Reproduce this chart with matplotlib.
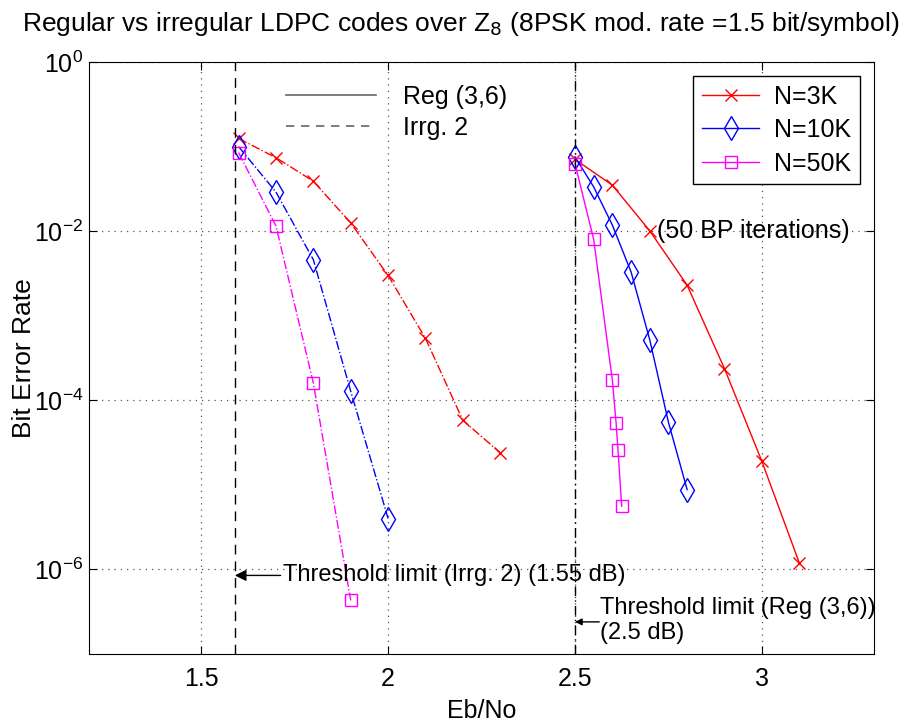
import matplotlib
matplotlib.use("Agg")
import matplotlib.pyplot as plt
from matplotlib.lines import Line2D

plt.rcParams['font.family'] = ['Liberation Sans', 'DejaVu Sans']

# ---- data ----
# irregular codes (Irrg. 2), dash-dot
irr_3k_x = [1.6, 1.7, 1.8, 1.9, 2.0, 2.1, 2.2, 2.3]
irr_3k_y = [0.125, 0.074, 0.039, 0.0125, 0.003, 5.4e-4, 5.8e-5, 2.4e-5]
irr_10k_x = [1.6, 1.7, 1.8, 1.9, 2.0]
irr_10k_y = [0.10, 0.029, 0.0046, 1.28e-4, 4.0e-6]
irr_50k_x = [1.6, 1.7, 1.8, 1.9]
irr_50k_y = [0.085, 0.0115, 1.6e-4, 4.3e-7]

# regular (3,6) codes, solid
reg_3k_x = [2.5, 2.6, 2.7, 2.8, 2.9, 3.0, 3.1]
reg_3k_y = [0.0706, 0.035, 0.0101, 0.0023, 2.37e-4, 1.9e-5, 1.2e-6]
reg_10k_x = [2.5, 2.55, 2.6, 2.65, 2.7, 2.75, 2.8]
reg_10k_y = [0.0757, 0.0334, 0.0118, 0.0033, 5.2e-4, 5.5e-5, 8.8e-6]
reg_50k_x = [2.5, 2.55, 2.6, 2.61, 2.615, 2.625]
reg_50k_y = [0.063, 0.008, 1.73e-4, 5.4e-5, 2.6e-5, 5.6e-6]

thr_irr = 1.59   # dashed threshold line
thr_reg = 2.5    # dash-dot threshold line

x_ticks = [1.5, 2, 2.5, 3]
x_ticklabels = ['1.5', '2', '2.5', '3']
y_ticks = [1, 1e-2, 1e-4, 1e-6]

FS = 18

# ---- plot ----
fig = plt.figure(figsize=(9.09, 7.23), dpi=100)
ax = fig.add_axes([0.098, 0.0954, 0.8635, 0.8188])

mk = dict(mfc='none', lw=1.0, mew=1.0)
ax.plot(irr_3k_x, irr_3k_y, '-.', color='red', marker='x', ms=8, **mk)
ax.plot(irr_10k_x, irr_10k_y, '-.', color='blue', marker='d', ms=12, **mk)
ax.plot(irr_50k_x, irr_50k_y, '-.', color='magenta', marker='s', ms=8, **mk)
l1, = ax.plot(reg_3k_x, reg_3k_y, '-', color='red', marker='x', ms=8, **mk)
l2, = ax.plot(reg_10k_x, reg_10k_y, '-', color='blue', marker='d', ms=12, **mk)
l3, = ax.plot(reg_50k_x, reg_50k_y, '-', color='magenta', marker='s', ms=8, **mk)

ax.axvline(thr_irr, color='black', ls=(0, (7, 5)), lw=1.0)
ax.axvline(thr_reg, color='black', ls=(0, (7, 3, 1, 3)), lw=1.0)

ax.set_yscale('log')
ax.set_xlim(1.2, 3.3)
ax.set_ylim(1e-7, 1)
ax.set_xticks(x_ticks)
ax.set_xticklabels(x_ticklabels)
ax.set_yticks(y_ticks)
ax.yaxis.set_minor_locator(matplotlib.ticker.NullLocator())
ax.tick_params(direction='in', top=True, right=True, labelsize=FS, length=6)
ax.tick_params(axis='x', pad=9)
ax.tick_params(axis='y', pad=4)
ax.grid(True, ls=(0, (1, 4)), color='#555555', lw=0.9)

ax.set_title('Regular vs irregular LDPC codes over Z$_8$ (8PSK mod. rate =1.5 bit/symbol)',
             fontsize=19, pad=22, x=0.473)
ax.set_xlabel('Eb/No', fontsize=FS, labelpad=6)
ax.set_ylabel('Bit Error Rate', fontsize=19)
ax.yaxis.set_label_coords(-0.068, 0.5)

leg = ax.legend([l1, l2, l3], ['N=3K', 'N=10K', 'N=50K'], loc='upper right',
                fontsize=FS, fancybox=False, edgecolor='black', framealpha=1,
                handlelength=2.3, handletextpad=0.6, borderaxespad=0.55,
                labelspacing=0.38, borderpad=0.35)
leg.get_frame().set_linewidth(1.0)
ax.add_artist(leg)

h_reg = Line2D([], [], color='#666666', ls='-', lw=1.2)
h_irr = Line2D([], [], color='#666666', ls=(0, (5, 4)), lw=1.2)
ax.legend([h_reg, h_irr], ['Reg (3,6)', 'Irrg. 2'], loc='upper left',
          bbox_to_anchor=(0.222, 1.0), frameon=False, fontsize=FS,
          handlelength=3.6, handletextpad=1.1, labelspacing=0.3)

ax.text(2.72, 1.0e-2, '(50 BP iterations)', fontsize=FS, va='center', ha='left')
ax.annotate('Threshold limit (Irrg. 2) (1.55 dB)', xy=(thr_irr, 8.5e-7),
            xytext=(1.72, 8.5e-7), fontsize=17, va='center', ha='left',
            arrowprops=dict(arrowstyle='-|>', color='black', lw=1.0,
                            shrinkA=0, shrinkB=0))
ax.annotate('', xy=(thr_reg, 2.4e-7), xytext=(2.565, 2.4e-7),
            arrowprops=dict(arrowstyle='-|>', color='black', lw=1.0,
                            shrinkA=0, shrinkB=0))
ax.text(2.567, 3.5e-7, 'Threshold limit (Reg (3,6))', fontsize=17, va='center', ha='left')
ax.text(2.567, 1.75e-7, '(2.5 dB)', fontsize=17, va='center', ha='left')

fig.savefig('out.png', dpi=100)
